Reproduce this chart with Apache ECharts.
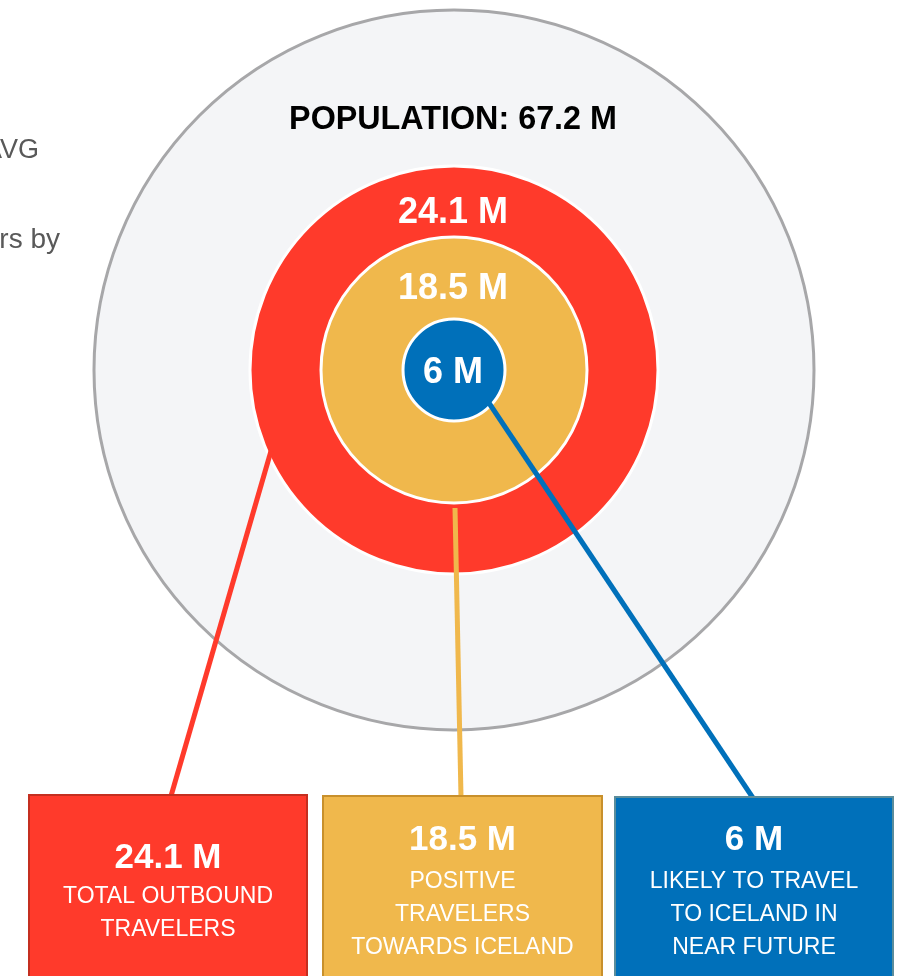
<!DOCTYPE html>
<html>
<head>
<meta charset="utf-8">
<script src="https://cdn.jsdelivr.net/npm/echarts@6/dist/echarts.min.js"></script>
<style>
html,body{margin:0;padding:0;background:#ffffff;}
#chart{width:905px;height:976px;}
</style>
</head>
<body>
<div id="chart"></div>
<script>
// ---- data ----
const ringNames = ['POPULATION', 'TOTAL OUTBOUND TRAVELERS', 'POSITIVE TRAVELERS TOWARDS ICELAND', 'LIKELY TO TRAVEL TO ICELAND IN NEAR FUTURE'];
const ringValues = [67.2, 24.1, 18.5, 6];
const unit = ' M';
const boxLines = [
  ['TOTAL OUTBOUND', 'TRAVELERS'],
  ['POSITIVE', 'TRAVELERS', 'TOWARDS ICELAND'],
  ['LIKELY TO TRAVEL', 'TO ICELAND IN', 'NEAR FUTURE']
];
const sideTexts = ['AVG', 'rs by'];

// ---- layout / style ----
const CX = 454, CY = 370;
const radii = [360, 204, 133, 51];
const fills = ['#f4f5f7', '#ff3a2b', '#f0b84c', '#0070ba'];
const borders = ['#a7a7a9', '#ffffff', '#ffffff', '#ffffff'];
const borderW = [3, 3, 3, 3];
const ringLabelY = [120, 213, 289, 373];
const boxes = [
  {x: 29, y: 795, w: 278, fill: '#ff3a2b', stroke: '#c42f20', titleY: 858, bodyTop: 880},
  {x: 323, y: 796, w: 279, fill: '#f0b84c', stroke: '#c8902c', titleY: 840, bodyTop: 865},
  {x: 615, y: 797, w: 278, fill: '#0070ba', stroke: '#5b8d9c', titleY: 840, bodyTop: 865}
];
const leaders = [
  {from: [271, 451], to: [171, 796], color: '#ff3a2b'},
  {from: [455, 508], to: [461, 797], color: '#f0b84c'},
  {from: [489, 403], to: [753, 798], color: '#0070ba'}
];
const FONT = '"Liberation Sans", Arial, sans-serif';

const series = ringValues.map((v, i) => ({
  type: 'pie',
  name: ringNames[i],
  center: [CX, CY],
  radius: [0, radii[i]],
  silent: true,
  animation: false,
  z: 2 + i,
  label: {show: false},
  labelLine: {show: false},
  itemStyle: {color: fills[i], borderColor: borders[i], borderWidth: borderW[i]},
  data: [{name: ringNames[i], value: v}]
}));

const graphics = [];
// side clipped texts
graphics.push({type: 'text', x: 39, y: 151, z: 50, style: {text: sideTexts[0], font: '27px ' + FONT, fill: '#595959', align: 'right', verticalAlign: 'middle'}});
graphics.push({type: 'text', x: 60, y: 240, z: 50, style: {text: sideTexts[1], font: '28px ' + FONT, fill: '#595959', align: 'right', verticalAlign: 'middle'}});

// ring labels
ringValues.forEach((v, i) => {
  const txt = i === 0 ? ringNames[0] + ': ' + v + unit : v + unit;
  graphics.push({
    type: 'text', x: CX - 1, y: ringLabelY[i], z: 60, scaleX: i === 0 ? 0.95 : 1,
    style: {text: txt, font: 'bold ' + (i === 0 ? 34 : 36) + 'px ' + FONT, fill: i === 0 ? '#000000' : '#ffffff', align: 'center', verticalAlign: 'middle'}
  });
});

// leader lines
leaders.forEach(l => {
  graphics.push({type: 'line', z: 40, shape: {x1: l.from[0], y1: l.from[1], x2: l.to[0], y2: l.to[1]}, style: {stroke: l.color, lineWidth: 5}});
});

// boxes
boxes.forEach((b, i) => {
  graphics.push({type: 'rect', z: 45, shape: {x: b.x, y: b.y, width: b.w, height: 200}, style: {fill: b.fill, stroke: b.stroke, lineWidth: 2}});
  const cx = b.x + b.w / 2;
  graphics.push({type: 'text', z: 55, x: cx, y: b.titleY, style: {text: ringValues[i + 1] + unit, font: 'bold 35px ' + FONT, fill: '#ffffff', align: 'center', verticalAlign: 'middle'}});
  graphics.push({type: 'text', z: 55, x: cx, y: b.bodyTop, style: {text: boxLines[i].join('\n'), font: '23px ' + FONT, lineHeight: 33, fill: '#ffffff', align: 'center', verticalAlign: 'top'}});
});

const chart = echarts.init(document.getElementById('chart'), null, {renderer: 'canvas'});
chart.setOption({
  backgroundColor: '#ffffff',
  animation: false,
  series: series,
  graphic: {elements: graphics}
});
</script>
</body>
</html>
